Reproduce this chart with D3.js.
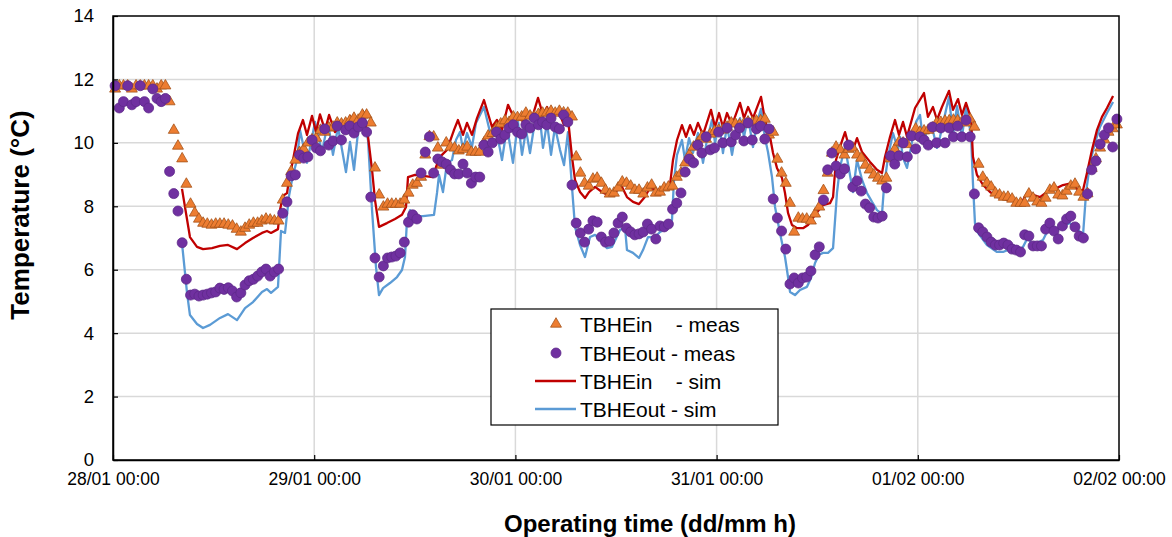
<!DOCTYPE html>
<html><head><meta charset="utf-8">
<script src="https://cdn.jsdelivr.net/npm/d3@7"></script>
<style>
html,body{margin:0;padding:0;background:#fff;}
svg{display:block;font-family:Arial,"Liberation Sans",sans-serif;}
</style></head>
<body><svg id="c" width="1172" height="537"></svg>
<script>
// ---- data ----
const xTickHours = [0, 24, 48, 72, 96, 120];
const xTickLabels = ["28/01 00:00", "29/01 00:00", "30/01 00:00", "31/01 00:00", "01/02 00:00", "02/02 00:00"];
const yTicks = [0, 2, 4, 6, 8, 10, 12, 14];
const seriesNames = ["TBHEin    - meas", "TBHEout - meas", "TBHEin    - sim", "TBHEout - sim"];

// measured values, every 0.5 h starting at 0.25 h
const measStart = 0.25, measStep = 0.5;
const tbheInMeas = [
11.7,11.8,11.8,11.8,11.7,11.8,11.8,11.8,11.8,11.8,
11.7,11.8,11.8,11.3,10.4,9.9,9.5,8.7,8.07,7.79,
7.6,7.47,7.44,7.41,7.44,7.44,7.44,7.41,7.38,7.28,
7.19,7.31,7.41,7.47,7.47,7.54,7.6,7.57,7.54,7.54,
8.2,8.73,9.1,9.46,9.7,9.8,10.0,10.1,10.15,10.4,
10.34,10.47,10.5,10.63,10.6,10.63,10.7,10.78,10.72,10.88,
10.88,10.63,9.21,8.36,7.98,8.07,8.07,8.07,8.07,8.2,
8.42,8.67,8.73,8.92,9.62,10.2,10.19,9.84,9.3,10.0,
9.87,9.84,9.75,9.8,9.87,9.71,9.71,9.71,10.0,10.22,
10.3,10.47,10.6,10.7,10.65,10.82,10.8,10.82,10.94,10.85,
10.82,10.9,10.94,10.95,11.0,10.94,11.0,10.95,10.94,10.82,
9.56,9.05,8.73,8.64,8.86,8.89,8.73,8.51,8.39,8.42,
8.58,8.77,8.73,8.64,8.51,8.51,8.39,8.58,8.67,8.42,
8.45,8.58,8.61,8.64,8.92,9.05,9.37,9.62,9.87,10.0,
10.2,10.12,10.28,10.36,10.4,10.41,10.5,10.63,10.6,10.57,
10.6,10.66,10.65,10.69,10.7,10.75,10.25,10.34,9.49,9.05,
8.73,8.1,7.19,7.63,7.6,7.6,7.54,7.76,7.98,8.5,
9.05,9.68,9.87,9.78,9.62,9.8,9.84,9.62,9.52,9.3,
9.15,8.99,8.89,8.8,8.89,9.5,9.8,10.03,10.0,9.95,
10.2,10.44,10.34,10.38,10.4,10.47,10.63,10.65,10.69,10.7,
10.72,10.7,10.66,10.63,10.75,10.5,9.33,8.92,8.73,8.61,
8.42,8.36,8.29,8.29,8.23,8.1,8.1,8.1,8.39,8.26,
8.14,8.1,8.26,8.51,8.58,8.36,8.33,8.48,8.64,8.7,
8.45,8.29,8.4,9.2,9.5,9.84,10.1,10.34,10.45,10.57];

const tbheOutMeas = [
11.8,11.1,11.3,11.8,11.2,11.3,11.8,11.3,11.1,11.7,
11.4,11.3,11.4,9.1,8.4,7.85,6.85,5.7,5.2,5.23,
5.17,5.2,5.23,5.27,5.3,5.42,5.38,5.43,5.33,5.14,
5.27,5.52,5.65,5.7,5.8,5.93,6.02,5.8,5.93,6.02,
7.78,8.14,8.96,8.99,9.62,9.52,9.56,10.09,9.84,9.75,
10.44,9.93,10.06,10.53,10.09,10.41,10.53,10.31,10.5,10.63,
10.34,8.29,6.37,5.77,6.12,6.37,6.4,6.43,6.53,6.87,
7.5,7.73,7.6,9.05,9.71,10.19,9.05,9.49,9.4,9.33,
9.15,9.02,9.02,9.33,9.05,8.73,8.92,8.92,9.93,9.71,
10.0,10.34,10.12,10.25,10.47,10.57,10.34,10.28,10.57,10.47,
10.78,10.57,10.66,10.57,10.78,10.5,10.44,10.88,10.66,8.67,
7.47,7.16,6.87,7.28,7.54,7.5,7.03,6.87,6.9,7.16,
7.47,7.66,7.31,7.19,7.1,7.13,7.19,7.44,7.28,6.97,
7.38,7.35,7.44,7.91,8.1,8.42,9.08,9.49,9.37,9.93,
9.68,10.19,9.78,9.84,10.34,10.0,10.47,10.03,10.25,10.47,
10.06,10.63,10.09,10.44,10.53,10.12,10.44,8.23,7.63,7.22,
6.65,5.55,5.74,5.58,5.74,5.77,5.96,6.47,6.72,8.2,
9.15,9.68,9.27,9.02,9.18,9.93,8.61,8.8,8.48,8.07,
7.95,7.66,7.63,7.69,8.58,9.59,9.33,9.59,10.0,9.56,
10.22,9.81,10.19,10.09,9.93,10.5,10.0,10.47,10.0,10.47,
10.19,10.53,10.19,10.72,10.19,8.39,7.32,7.19,7.03,6.87,
6.78,6.78,6.84,6.78,6.65,6.62,6.56,7.1,7.06,6.75,
6.75,6.75,7.28,7.47,7.22,6.97,7.38,7.6,7.69,7.35,
7.06,7.0,8.39,9.15,9.43,9.96,10.25,10.47,9.87,10.75];

// simulated: [hour, value]
const tbheInSim = [[8.23,8.55],[9.18,7.03],[10.02,6.72],[10.74,6.65],[11.81,6.68],[12.77,6.75],[13.72,6.78],[14.79,6.65],[15.75,6.84],[16.7,7.0],[17.77,7.16],[18.37,7.22],[18.85,7.16],[19.68,7.28],[19.92,7.88],[20.28,8.33],[20.76,8.42],[21.0,8.83],[21.47,9.46],[22.07,10.3],[22.66,10.72],[23.14,10.25],[23.74,10.85],[24.22,10.34],[24.69,10.9],[25.29,10.4],[25.77,10.88],[26.48,10.34],[27.08,10.6],[27.79,10.3],[28.27,10.85],[29.1,10.4],[29.82,11.0],[30.42,10.2],[30.9,9.15],[31.25,8.2],[31.73,7.35],[32.68,7.47],[33.64,7.6],[34.47,7.73],[34.95,7.98],[35.19,8.92],[36.02,8.99],[38.17,8.92],[38.53,9.24],[39.0,9.56],[39.84,9.78],[40.68,10.41],[41.15,10.72],[41.75,10.25],[42.23,10.63],[42.82,10.25],[43.42,10.78],[44.25,11.35],[45.21,10.5],[45.8,10.72],[46.4,10.41],[47.12,11.2],[47.95,10.72],[48.31,10.88],[48.91,10.66],[49.38,10.88],[49.98,10.78],[50.7,11.42],[51.29,10.88],[51.77,11.13],[52.13,10.88],[52.72,11.04],[53.32,10.88],[53.8,10.56],[54.27,10.78],[54.75,9.56],[55.11,8.83],[55.71,8.45],[56.3,8.26],[56.78,8.45],[57.5,8.61],[58.33,8.45],[58.93,8.36],[59.88,8.45],[60.72,8.61],[61.31,8.29],[62.03,8.14],[62.74,8.07],[63.34,8.26],[64.06,8.58],[64.89,8.51],[65.61,8.58],[66.44,8.67],[66.8,9.46],[67.28,10.09],[67.87,10.56],[68.35,10.19],[68.83,10.56],[69.3,10.25],[69.78,10.63],[70.38,10.25],[71.33,11.04],[71.81,10.5],[72.29,10.94],[72.76,10.5],[73.24,10.94],[73.84,10.56],[74.79,11.26],[75.27,10.78],[75.75,11.13],[76.34,10.78],[77.3,11.45],[77.77,10.72],[78.37,10.19],[78.73,9.68],[79.2,9.21],[79.8,8.89],[80.16,8.42],[80.52,7.79],[80.99,7.41],[81.59,7.31],[82.31,7.31],[82.9,7.41],[83.74,7.73],[84.69,8.04],[85.53,8.1],[85.89,8.29],[86.24,9.46],[86.72,9.87],[87.32,10.34],[87.8,9.87],[88.27,9.78],[88.75,10.15],[89.35,9.71],[90.3,9.4],[91.13,9.15],[91.73,9.05],[92.09,9.56],[92.69,10.19],[93.28,10.72],[93.76,10.25],[94.24,10.66],[94.71,10.19],[95.67,11.1],[96.74,11.57],[97.21,10.82],[97.81,11.13],[98.29,10.72],[98.88,11.13],[99.72,11.64],[100.2,11.04],[100.8,11.38],[101.27,10.88],[101.75,11.26],[102.35,10.78],[102.58,9.56],[103.06,8.99],[103.78,8.67],[104.61,8.45],[105.57,8.29],[106.64,8.2],[107.83,8.14],[108.43,8.14],[109.03,8.42],[109.74,8.36],[110.58,8.29],[111.41,8.45],[112.01,8.61],[112.61,8.58],[113.32,8.67],[114.39,8.73],[115.11,8.51],[115.71,8.51],[116.18,9.05],[116.78,9.78],[117.38,10.41],[117.97,10.82],[118.57,11.1],[119.29,11.48]];

const tbheOutSim = [[8.23,6.84],[8.83,5.27],[9.18,4.57],[10.02,4.29],[10.74,4.16],[11.57,4.26],[12.77,4.48],[13.72,4.6],[14.79,4.41],[15.75,4.79],[16.7,4.98],[17.77,5.3],[18.37,5.39],[18.85,5.27],[19.68,5.46],[20.04,7.22],[20.52,7.16],[21.0,8.33],[21.47,8.99],[21.95,9.46],[22.31,10.4],[23.14,9.37],[24.1,10.66],[24.93,9.71],[25.65,10.66],[26.24,9.62],[26.84,10.5],[27.79,9.08],[28.27,10.03],[28.75,9.15],[29.34,10.63],[29.82,10.94],[30.42,10.09],[30.9,7.88],[31.37,6.09],[31.73,5.2],[32.21,5.42],[33.04,5.58],[33.88,5.77],[34.47,5.99],[34.83,6.4],[35.07,7.57],[35.43,7.88],[36.02,7.69],[36.98,7.69],[38.29,7.73],[38.65,8.42],[38.89,8.99],[39.36,8.45],[39.84,9.37],[40.44,9.46],[40.91,10.09],[41.39,10.34],[41.75,9.78],[42.23,10.31],[42.82,9.87],[43.3,10.63],[44.25,11.13],[44.97,10.34],[45.8,10.31],[46.4,9.46],[47.0,10.5],[47.71,9.37],[48.31,10.66],[48.79,9.62],[49.27,10.41],[49.74,9.68],[50.22,10.5],[50.82,11.04],[51.29,9.84],[51.77,10.63],[52.25,9.62],[52.72,10.5],[53.32,9.78],[53.8,9.3],[54.27,10.34],[54.75,8.61],[55.11,7.35],[55.71,6.78],[56.3,6.4],[56.9,7.03],[57.5,7.1],[58.33,6.87],[58.93,6.68],[59.53,6.72],[60.48,7.25],[61.07,7.35],[61.31,6.62],[62.03,6.53],[62.74,6.37],[63.22,6.62],[63.82,7.03],[64.65,7.03],[65.25,7.19],[66.08,7.31],[66.68,7.57],[66.92,8.83],[67.28,9.62],[67.87,10.09],[68.23,9.46],[68.71,10.15],[69.18,9.68],[69.78,10.31],[70.38,9.37],[70.85,10.09],[71.45,10.72],[71.81,10.0],[72.29,10.63],[72.76,9.68],[73.24,10.56],[73.84,9.62],[74.43,10.56],[74.79,10.78],[75.27,10.19],[75.75,10.82],[76.34,9.87],[76.82,10.63],[77.3,11.07],[77.77,10.15],[78.13,9.71],[78.61,8.92],[78.97,7.98],[79.56,7.16],[80.16,6.4],[80.52,5.77],[80.76,5.3],[81.35,5.2],[81.95,5.36],[82.78,5.46],[83.26,5.74],[83.74,6.21],[84.22,6.47],[84.69,6.53],[85.29,6.53],[85.89,6.68],[86.36,8.42],[86.72,9.24],[87.32,9.87],[87.8,9.15],[88.27,8.45],[88.75,9.46],[89.35,8.83],[89.94,8.42],[90.54,8.14],[91.13,7.88],[91.73,7.76],[91.97,8.61],[92.45,9.56],[93.04,10.31],[93.64,9.78],[93.88,10.19],[94.24,9.52],[94.71,9.21],[95.31,10.03],[95.79,10.66],[96.26,10.88],[96.62,10.09],[97.1,10.34],[97.69,10.5],[98.29,9.84],[98.65,10.19],[99.72,11.45],[100.2,10.25],[100.68,11.16],[101.27,10.19],[101.75,11.13],[102.35,10.25],[102.58,8.73],[102.82,7.47],[103.18,7.16],[104.25,6.78],[105.45,6.56],[106.16,6.56],[107.0,6.65],[107.83,6.56],[108.55,6.72],[109.15,7.03],[109.62,6.78],[110.22,6.84],[110.93,6.94],[111.53,7.25],[112.37,7.19],[112.96,7.31],[113.56,7.41],[114.16,7.47],[114.75,7.35],[115.35,7.19],[115.71,7.1],[116.07,8.42],[116.54,9.37],[117.14,10.0],[117.73,10.5],[118.57,10.94],[119.29,11.29]];

// ---- chart ----
const svg = d3.select("#c");
const L = 113, R = 1119, T = 16, B = 460;
const x = d3.scaleLinear().domain([0, 120]).range([L, R]);
const y = d3.scaleLinear().domain([0, 14]).range([B, T]);

const colIn = "#C00000", colOut = "#5B9BD5";
const triFill = "#ED7D31", triStroke = "#A5531A";
const cirFill = "#7030A0", cirStroke = "#5E2A8A";

// gridlines
svg.append("g").selectAll("line").data(yTicks.filter(v => v > 0 && v < 14)).join("line")
  .attr("x1", L).attr("x2", R).attr("y1", d => y(d)).attr("y2", d => y(d))
  .attr("stroke", "#d9d9d9").attr("stroke-width", 1.5);
svg.append("g").selectAll("line").data(xTickHours.filter(v => v > 0 && v < 120)).join("line")
  .attr("y1", T).attr("y2", B).attr("x1", d => x(d)).attr("x2", d => x(d))
  .attr("stroke", "#d9d9d9").attr("stroke-width", 1.5);

// lines
const line = d3.line().x(d => x(d[0])).y(d => y(d[1]));
svg.append("path").datum(tbheOutSim).attr("d", line).attr("fill", "none")
  .attr("stroke", colOut).attr("stroke-width", 2.3).attr("stroke-linejoin", "round");
svg.append("path").datum(tbheInSim).attr("d", line).attr("fill", "none")
  .attr("stroke", colIn).attr("stroke-width", 2.3).attr("stroke-linejoin", "round");

// measured markers
const inPts = tbheInMeas.map((v, i) => [measStart + i * measStep, v]);
const outPts = tbheOutMeas.map((v, i) => [measStart + i * measStep, v]);
const tri = d3.symbol().type(d3.symbolTriangle).size(52);
svg.append("g").selectAll("path").data(inPts).join("path")
  .attr("d", tri).attr("transform", d => `translate(${x(d[0])},${y(d[1])})`)
  .attr("fill", triFill).attr("stroke", triStroke).attr("stroke-width", 0.8);
svg.append("g").selectAll("circle").data(outPts).join("circle")
  .attr("cx", d => x(d[0])).attr("cy", d => y(d[1])).attr("r", 5)
  .attr("fill", cirFill).attr("stroke", cirStroke).attr("stroke-width", 0.8);

// frame
svg.append("rect").attr("x", L).attr("y", T).attr("width", R - L).attr("height", B - T)
  .attr("fill", "none").attr("stroke", "#000").attr("stroke-width", 1.5);

// axes
const xAxis = d3.axisBottom(x).tickValues(xTickHours).tickFormat((d, i) => xTickLabels[i])
  .tickSizeInner(-5).tickSizeOuter(0).tickPadding(13);
const gx = svg.append("g").attr("transform", `translate(0,${B})`).call(xAxis);
gx.select(".domain").attr("stroke", "#000").attr("stroke-width", 1.5);
gx.selectAll(".tick line").attr("stroke", "#000").attr("stroke-width", 1.2);
gx.selectAll("text").attr("font-size", 17.5).attr("fill", "#000").attr("font-family", "Arial, 'Liberation Sans', sans-serif");

const yAxis = d3.axisLeft(y).tickValues(yTicks).tickFormat(d3.format("d"))
  .tickSizeInner(-5).tickSizeOuter(0).tickPadding(19);
const gy = svg.append("g").attr("transform", `translate(${L},0)`).call(yAxis);
gy.select(".domain").attr("stroke", "#000").attr("stroke-width", 1.5);
gy.selectAll(".tick line").attr("stroke", "#000").attr("stroke-width", 1.2);
gy.selectAll("text").attr("font-size", 18.5).attr("fill", "#000").attr("font-family", "Arial, 'Liberation Sans', sans-serif");

// titles
svg.append("text").attr("x", 650).attr("y", 532).attr("text-anchor", "middle")
  .attr("font-size", 24).attr("font-weight", "bold").text("Operating time (dd/mm h)");
svg.append("text").attr("transform", "translate(29,215) rotate(-90)").attr("text-anchor", "middle")
  .attr("font-size", 26).attr("font-weight", "bold").text("Temperature (°C)");

// legend
const lg = svg.append("g");
lg.append("rect").attr("x", 491).attr("y", 309).attr("width", 287).attr("height", 116)
  .attr("fill", "#fff").attr("stroke", "#000").attr("stroke-width", 1.2);
const rowY = [324, 353, 381, 409];
lg.append("path").attr("d", d3.symbol().type(d3.symbolTriangle).size(52))
  .attr("transform", `translate(556,${rowY[0]})`).attr("fill", triFill).attr("stroke", triStroke).attr("stroke-width", 0.8);
lg.append("circle").attr("cx", 556).attr("cy", rowY[1]).attr("r", 5)
  .attr("fill", cirFill).attr("stroke", cirStroke).attr("stroke-width", 0.8);
lg.append("line").attr("x1", 535).attr("x2", 576).attr("y1", rowY[2]).attr("y2", rowY[2])
  .attr("stroke", colIn).attr("stroke-width", 2.3);
lg.append("line").attr("x1", 535).attr("x2", 576).attr("y1", rowY[3]).attr("y2", rowY[3])
  .attr("stroke", colOut).attr("stroke-width", 2.3);
lg.selectAll("text.lab").data(seriesNames).join("text").attr("class", "lab")
  .attr("x", 580).attr("y", (d, i) => rowY[i] + 7.5)
  .attr("font-size", 21).style("white-space", "pre").text(d => d);
</script></body></html>
